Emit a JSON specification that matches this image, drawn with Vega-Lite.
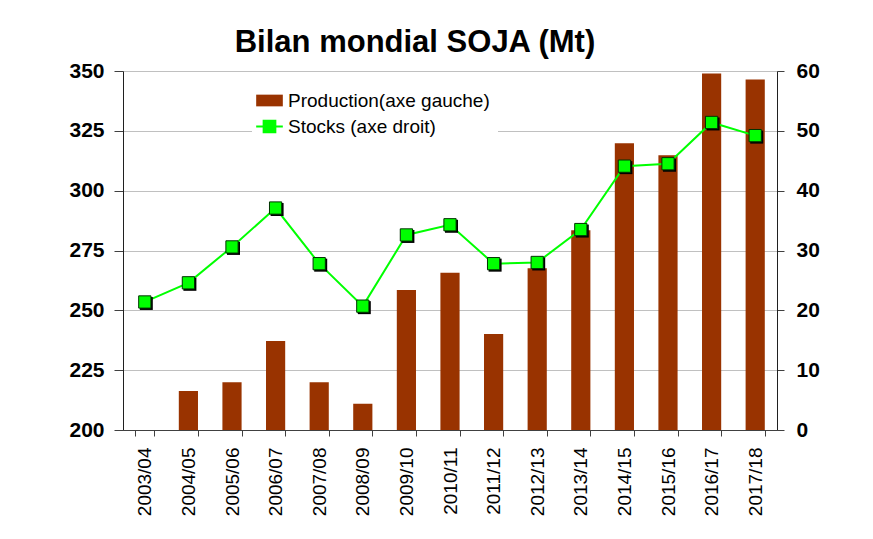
{
  "$schema": "https://vega.github.io/schema/vega-lite/v6.json",
  "width": 654,
  "height": 359,
  "autosize": "none",
  "padding": {"left": 123, "top": 71, "right": 96, "bottom": 109},
  "background": "white",
  "title": {
    "text": "Bilan mondial SOJA (Mt)",
    "font": "Liberation Sans",
    "fontSize": 31,
    "fontWeight": "bold",
    "color": "black",
    "anchor": "middle",
    "frame": "group",
    "baseline": "alphabetic",
    "offset": -23,
    "dx": -35
  },
  "data": {
    "values": [
      {"season": "2003/04", "production": 186.0, "stocks": 21.4},
      {"season": "2004/05", "production": 216.3, "stocks": 24.6},
      {"season": "2005/06", "production": 220.0, "stocks": 30.6},
      {"season": "2006/07", "production": 237.2, "stocks": 37.1},
      {"season": "2007/08", "production": 220.0, "stocks": 27.8},
      {"season": "2008/09", "production": 211.0, "stocks": 20.7},
      {"season": "2009/10", "production": 258.5, "stocks": 32.6},
      {"season": "2010/11", "production": 265.7, "stocks": 34.3},
      {"season": "2011/12", "production": 240.1, "stocks": 27.8},
      {"season": "2012/13", "production": 267.6, "stocks": 28.0},
      {"season": "2013/14", "production": 283.5, "stocks": 33.5},
      {"season": "2014/15", "production": 319.8, "stocks": 44.1},
      {"season": "2015/16", "production": 314.8, "stocks": 44.5},
      {"season": "2016/17", "production": 349.0, "stocks": 51.4},
      {"season": "2017/18", "production": 346.5, "stocks": 49.2}
    ]
  },
  "encoding": {
    "x": {
      "field": "season",
      "type": "nominal",
      "sort": null,
      "scale": {"paddingInner": 0.56, "paddingOuter": 0.28},
      "axis": {
        "title": null,
        "labelAngle": -90,
        "labelAlign": "right",
        "labelBaseline": "middle",
        "labelFont": "Liberation Sans",
        "labelFontSize": 19,
        "labelColor": "black",
        "labelPadding": 11,
        "tickSize": 6,
        "tickBand": "extent",
        "tickColor": "#404040",
        "domainColor": "#404040",
        "grid": false
      }
    }
  },
  "layer": [
    {
      "mark": {"type": "bar", "color": "#993300", "clip": true},
      "encoding": {
        "y": {
          "field": "production",
          "type": "quantitative",
          "scale": {"domain": [200, 350], "zero": false, "nice": false},
          "axis": {
            "title": null,
            "orient": "left",
            "values": [200, 225, 250, 275, 300, 325, 350],
            "labelFont": "Liberation Sans",
            "labelFontSize": 21,
            "labelFontWeight": "bold",
            "labelColor": "black",
            "labelPadding": 10,
            "tickSize": 9,
            "tickColor": "#404040",
            "domainColor": "#202020",
            "grid": true,
            "gridColor": "#c0c0c0",
            "gridWidth": 1
          }
        },
        "color": {
          "datum": "Production(axe gauche)",
          "type": "nominal",
          "scale": {
            "domain": ["Production(axe gauche)", "Stocks (axe droit)"],
            "range": ["#993300", "#00ff00"]
          },
          "legend": {
            "title": null,
            "orient": "none",
            "legendX": 129,
            "legendY": 12,
            "padding": 8,
            "fillColor": "white",
            "labelFont": "Liberation Sans",
            "labelFontSize": 19,
            "labelColor": "black",
            "labelOffset": 9,
            "labelLimit": 400,
            "rowPadding": 5,
            "symbolSize": 169,
            "encode": {
              "symbols": {
                "update": {
                  "shape": {"signal": "datum.value === 'Stocks (axe droit)' ? 'M-2.05,0H2.05M-0.9,-0.9H0.9V0.9H-0.9Z' : 'M-2.05,-0.9H2.05V0.9H-2.05Z'"},
                  "fill": {"signal": "datum.value === 'Stocks (axe droit)' ? '#00ff00' : '#993300'"},
                  "stroke": {"signal": "datum.value === 'Stocks (axe droit)' ? '#00cc00' : '#993300'"},
                  "strokeWidth": {"signal": "datum.value === 'Stocks (axe droit)' ? 2 : 0"},
                  "opacity": {"value": 1},
                  "fillOpacity": {"value": 1}
                }
              }
            }
          }
        }
      }
    },
    {
      "encoding": {
        "y": {
          "field": "stocks",
          "type": "quantitative",
          "scale": {"domain": [0, 60], "nice": false},
          "axis": {
            "title": null,
            "orient": "right",
            "values": [0, 10, 20, 30, 40, 50, 60],
            "labelFont": "Liberation Sans",
            "labelFontSize": 21,
            "labelFontWeight": "bold",
            "labelColor": "black",
            "labelPadding": 12,
            "tickSize": 7,
            "tickColor": "#404040",
            "domainColor": "#202020",
            "grid": false
          }
        }
      },
      "layer": [
        {
          "mark": {"type": "line", "strokeWidth": 2},
          "encoding": {
            "color": {"datum": "Stocks (axe droit)", "type": "nominal"}
          }
        },
        {
          "mark": {"type": "point", "shape": "square", "size": 169, "filled": true, "color": "#000000", "opacity": 1, "xOffset": 1.5, "yOffset": 1.5},
          "encoding": {}
        },
        {
          "mark": {"type": "point", "shape": "square", "size": 150, "filled": true, "fill": "#00ff00", "stroke": "#003300", "strokeWidth": 1, "opacity": 1},
          "encoding": {}
        }
      ]
    }
  ],
  "resolve": {"scale": {"y": "independent"}},
  "config": {
    "view": {"stroke": null}
  }
}
